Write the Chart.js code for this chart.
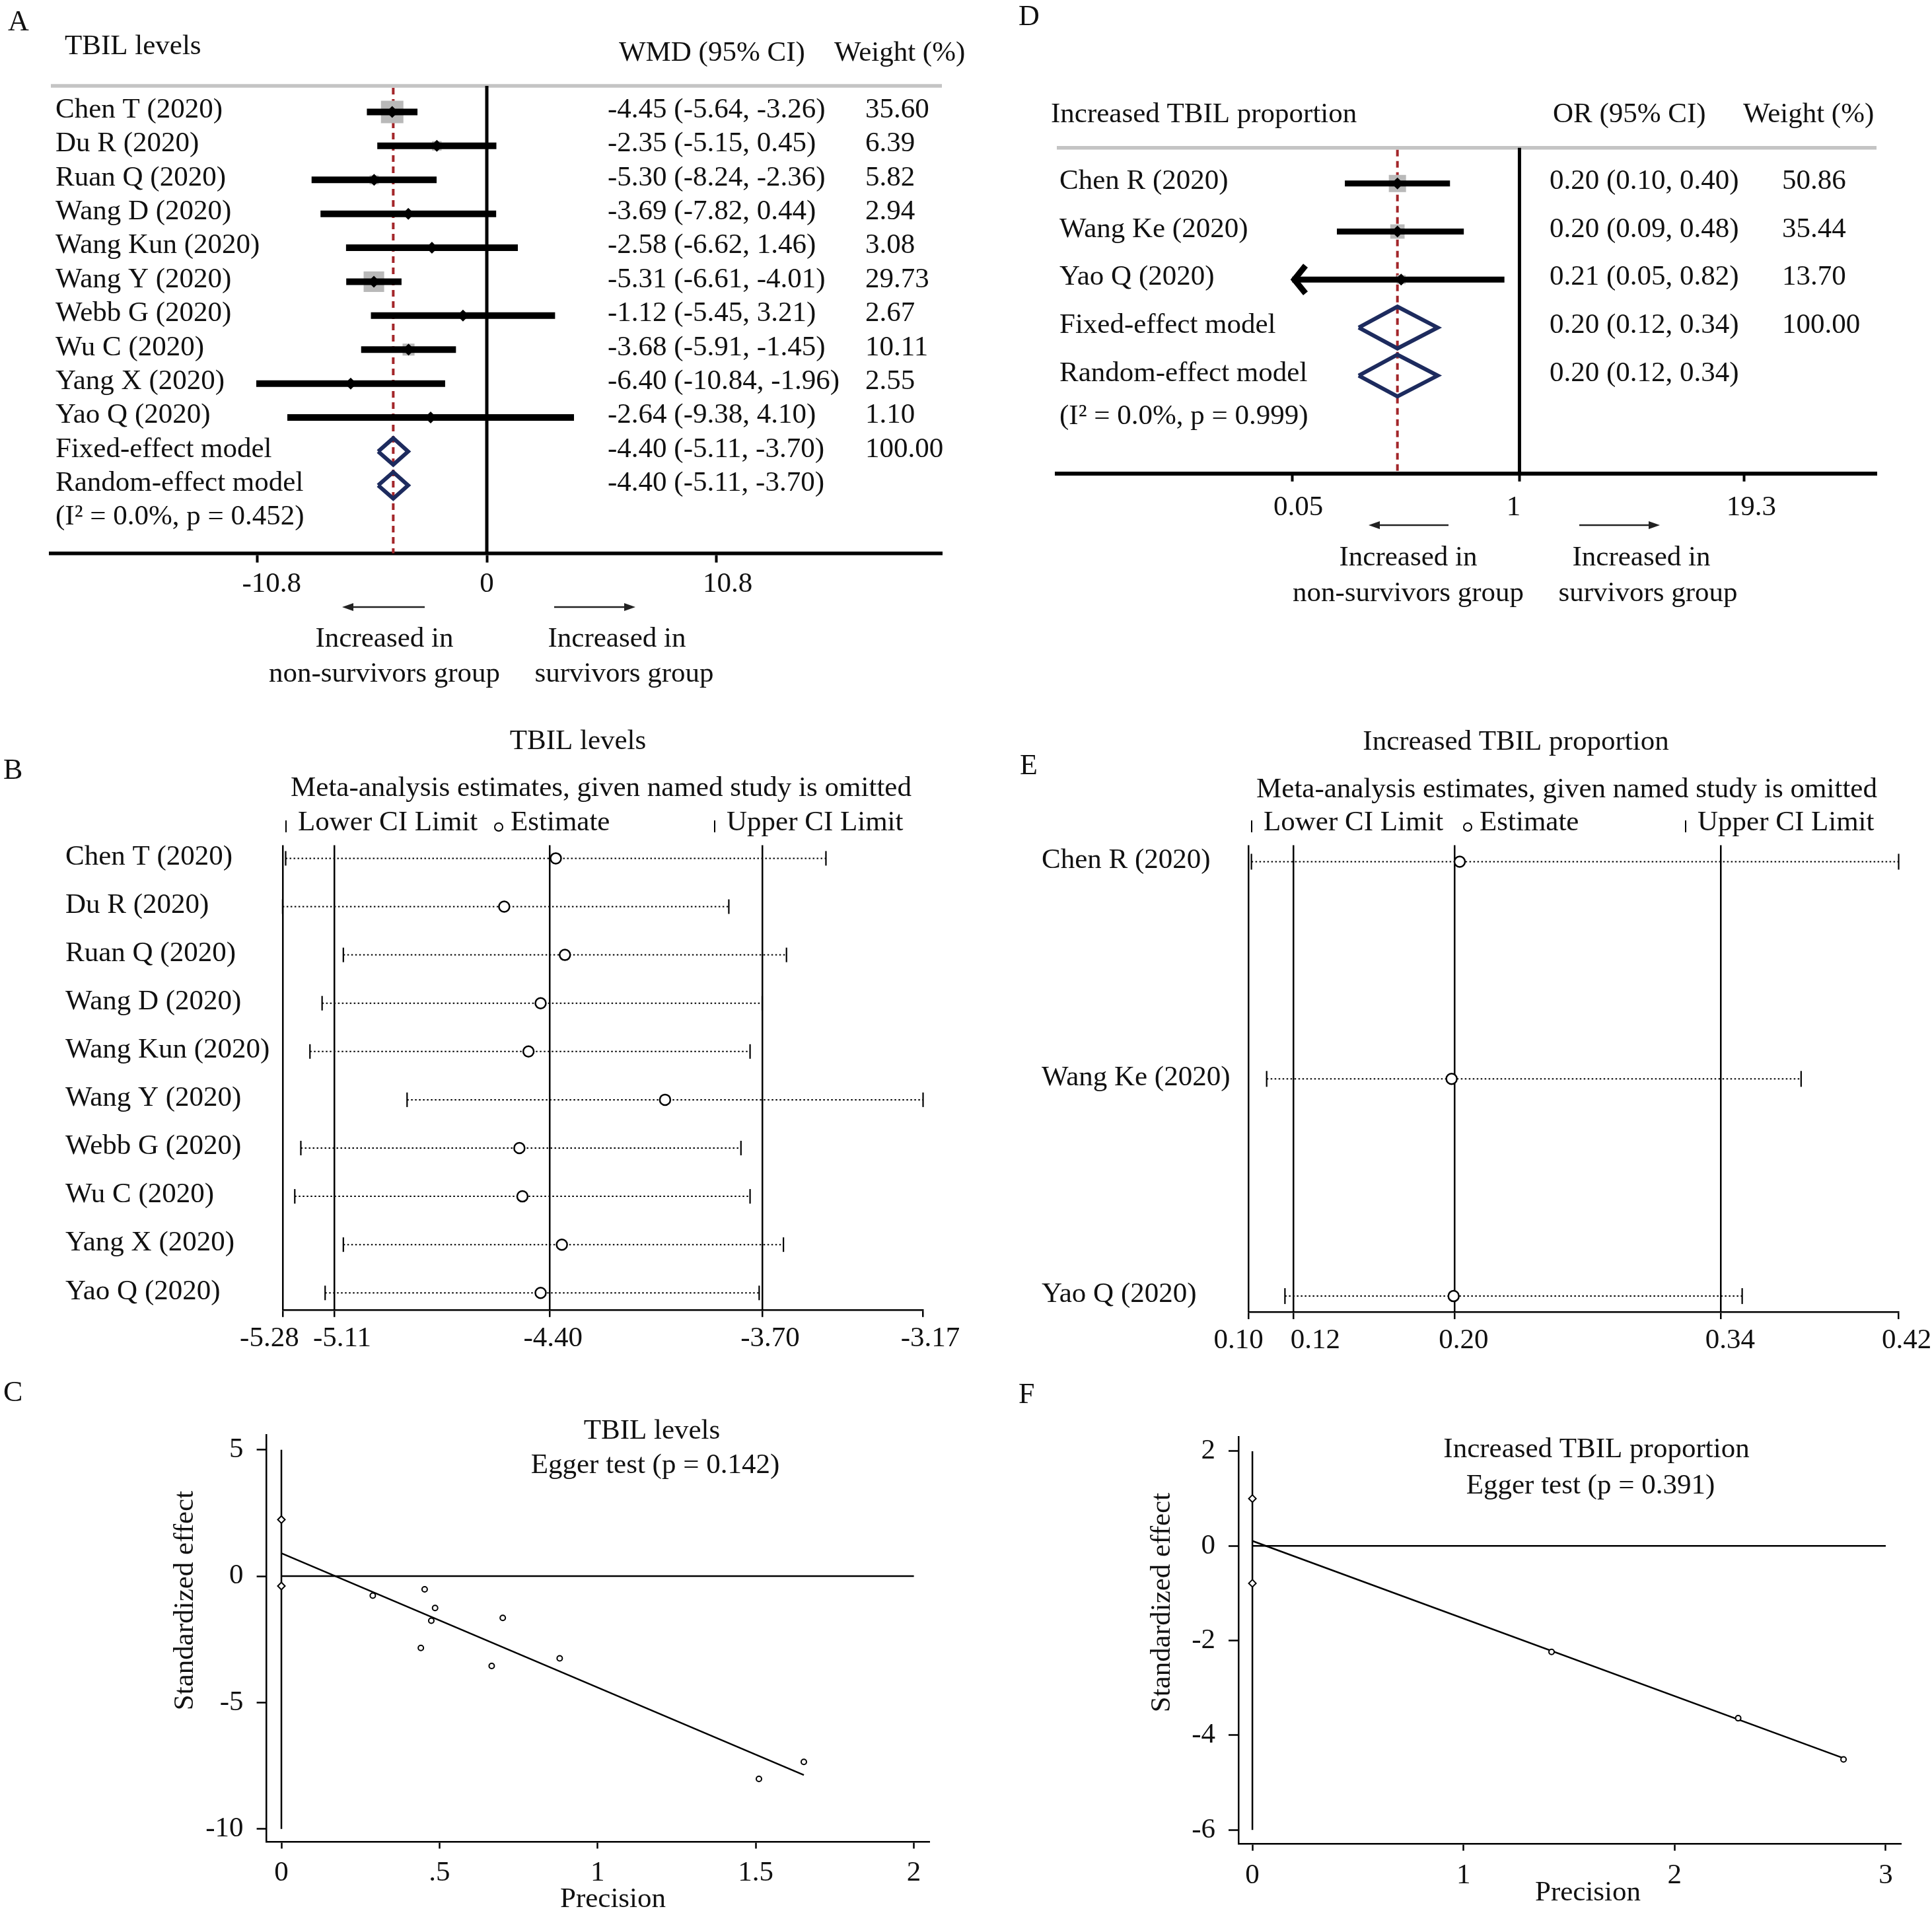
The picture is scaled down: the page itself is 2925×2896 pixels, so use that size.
<!DOCTYPE html>
<html>
<head>
<meta charset="utf-8">
<title>TBIL meta-analysis</title>
<script src="https://cdn.jsdelivr.net/npm/chart.js@4.4.1/dist/chart.umd.min.js"></script>
<style>
  body { margin: 0; background: #fff; }
  #page { position: relative; width: 2925px; height: 2896px; background: #fff; overflow: hidden; }
  canvas { position: absolute; }
</style>
</head>
<body>
<div id="page">
  <canvas id="panelA" width="1460" height="1080" style="left:0px;top:0px;width:1460px;height:1080px"></canvas>
  <canvas id="panelD" width="1385" height="940" style="left:1540px;top:0px;width:1385px;height:940px"></canvas>
  <canvas id="panelB" width="1470" height="980" style="left:0px;top:1080px;width:1470px;height:980px"></canvas>
  <canvas id="panelE" width="1385" height="980" style="left:1540px;top:1080px;width:1385px;height:980px"></canvas>
  <canvas id="panelC" width="1460" height="836" style="left:0px;top:2060px;width:1460px;height:836px"></canvas>
  <canvas id="panelF" width="1385" height="836" style="left:1540px;top:2060px;width:1385px;height:836px"></canvas>
</div>
<script>
// A: TBIL levels, weighted mean difference per study
const A_STUDIES = ['Chen T (2020)', 'Du R (2020)', 'Ruan Q (2020)', 'Wang D (2020)', 'Wang Kun (2020)',
                   'Wang Y (2020)', 'Webb G (2020)', 'Wu C (2020)', 'Yang X (2020)', 'Yao Q (2020)'];
const A_WMD    = [-4.45, -2.35, -5.30, -3.69, -2.58, -5.31, -1.12, -3.68, -6.40, -2.64];
const A_LOWER  = [-5.64, -5.15, -8.24, -7.82, -6.62, -6.61, -5.45, -5.91, -10.84, -9.38];
const A_UPPER  = [-3.26, 0.45, -2.36, 0.44, 1.46, -4.01, 3.21, -1.45, -1.96, 4.10];
const A_WEIGHT = [35.60, 6.39, 5.82, 2.94, 3.08, 29.73, 2.67, 10.11, 2.55, 1.10];
const A_MODELS = ['Fixed-effect model', 'Random-effect model'];
const A_MODEL_WMD    = [-4.40, -4.40];
const A_MODEL_LOWER  = [-5.11, -5.11];
const A_MODEL_UPPER  = [-3.70, -3.70];
const A_MODEL_WEIGHT = [100.00, null];
const A_HETEROGENEITY = '(I² = 0.0%, p = 0.452)';
const A_TICKS = [-10.8, 0, 10.8];
const A_TICK_LABELS = ['-10.8', '0', '10.8'];

// D: increased TBIL proportion, odds ratio per study
const D_STUDIES = ['Chen R (2020)', 'Wang Ke (2020)', 'Yao Q (2020)'];
const D_OR     = [0.20, 0.20, 0.21];
const D_LOWER  = [0.10, 0.09, 0.05];
const D_UPPER  = [0.40, 0.48, 0.82];
const D_WEIGHT = [50.86, 35.44, 13.70];
const D_MODELS = ['Fixed-effect model', 'Random-effect model'];
const D_MODEL_OR     = [0.20, 0.20];
const D_MODEL_LOWER  = [0.12, 0.12];
const D_MODEL_UPPER  = [0.34, 0.34];
const D_MODEL_WEIGHT = [100.00, null];
const D_HETEROGENEITY = '(I² = 0.0%, p = 0.999)';
const D_TICKS = [0.05, 1, 19.3];
const D_TICK_LABELS = ['0.05', '1', '19.3'];

// B: leave-one-out estimates, TBIL levels
const B_OMITTED = ['Chen T (2020)', 'Du R (2020)', 'Ruan Q (2020)', 'Wang D (2020)', 'Wang Kun (2020)',
                   'Wang Y (2020)', 'Webb G (2020)', 'Wu C (2020)', 'Yang X (2020)', 'Yao Q (2020)'];
const B_ESTIMATE = [-4.38, -4.55, -4.35, -4.43, -4.47, -4.02, -4.50, -4.49, -4.36, -4.43];
const B_LOWER    = [-5.27, -5.28, -5.08, -5.15, -5.19, -4.87, -5.22, -5.24, -5.08, -5.14];
const B_UPPER    = [-3.49, -3.81, -3.62, -3.70, -3.74, -3.17, -3.77, -3.74, -3.63, -3.71];
const B_TICKS = [-5.28, -5.11, -4.40, -3.70, -3.17];
const B_TICK_LABELS = ['-5.28', '-5.11', '-4.40', '-3.70', '-3.17'];

// E: leave-one-out estimates, increased TBIL proportion
const E_OMITTED = ['Chen R (2020)', 'Wang Ke (2020)', 'Yao Q (2020)'];
const E_ESTIMATE = [0.204, 0.200, 0.201];
const E_LOWER    = [0.1015, 0.109, 0.118];
const E_UPPER    = [0.42, 0.372, 0.343];
const E_TICKS = [0.10, 0.1222, 0.2014, 0.3325, 0.42];
const E_TICK_LABELS = ['0.10', '0.12', '0.20', '0.34', '0.42'];

// C: Egger plot, TBIL levels
const C_PRECISION  = [0.289, 0.441, 0.453, 0.474, 0.486, 0.665, 0.700, 0.880, 1.510, 1.652];
const C_STD_EFFECT = [-0.77, -2.84, -0.52, -1.76, -1.26, -3.55, -1.65, -3.25, -8.02, -7.35];
const C_INTERCEPT_CI = [2.24, -0.39];
const C_FIT_PRECISION = [0, 1.652];
const C_FIT_EFFECT    = [0.91, -7.87];
const C_XTICKS = [0, 0.5, 1, 1.5, 2];
const C_XTICK_LABELS = ['0', '.5', '1', '1.5', '2'];
const C_YTICKS = [-10, -5, 0, 5];

// F: Egger plot, increased TBIL proportion
const F_PRECISION  = [1.417, 2.301, 2.800];
const F_STD_EFFECT = [-2.24, -3.64, -4.51];
const F_INTERCEPT_CI = [1.00, -0.79];
const F_FIT_PRECISION = [0, 2.800];
const F_FIT_EFFECT    = [0.105, -4.485];
const F_XTICKS = [0, 1, 2, 3];
const F_XTICK_LABELS = ['0', '1', '2', '3'];
const F_YTICKS = [-6, -4, -2, 0, 2];

const INK = '#111';
const SERIF = "43px 'Liberation Serif'";
const LETTER = "44px 'Liberation Serif'";
Chart.defaults.font.family = "'Liberation Serif'";
Chart.defaults.color = INK;

function fmt(v) { return v.toFixed(2); }

function drawText(ctx, s, x, y, align, font) {
  ctx.font = font || SERIF;
  ctx.textAlign = align || 'left';
  ctx.textBaseline = 'middle';
  ctx.fillStyle = INK;
  ctx.fillText(s, x, y);
}

function drawArrow(ctx, x1, x2, y) {
  const dir = Math.sign(x2 - x1);
  ctx.strokeStyle = '#222';
  ctx.fillStyle = '#222';
  ctx.lineWidth = 2.5;
  ctx.beginPath(); ctx.moveTo(x1, y); ctx.lineTo(x2 - dir * 10, y); ctx.stroke();
  ctx.beginPath(); ctx.moveTo(x2, y); ctx.lineTo(x2 - dir * 17, y - 6); ctx.lineTo(x2 - dir * 17, y + 6); ctx.closePath(); ctx.fill();
}

// tick labels sit a little off their tick marks in the original, so these axes place them by hand
function drawTickLabels(chart, ticks, labels, shift, gap) {
  const { ctx, chartArea: a, scales: { x } } = chart;
  ticks.forEach((v, i) => drawText(ctx, labels[i], x.getPixelForValue(v) + shift[i], a.bottom + gap, 'center'));
}

function xAxis(o) {
  return {
    type: o.type || 'linear', min: o.min, max: o.max,
    afterBuildTicks: s => { s.ticks = o.ticks.map(v => ({ value: v })); },
    afterFit: s => { s.height = o.height; },
    ticks: { display: !o.manualLabels, font: { size: 43 }, color: INK, padding: o.pad || 0, maxRotation: 0,
             autoSkip: false, callback: (v, i) => o.labels[i] },
    grid: { drawOnChartArea: !!o.gridColor, color: o.gridColor || 'rgba(0,0,0,0)', lineWidth: o.gridW || 1,
            drawTicks: true, tickLength: o.tickLen, tickWidth: o.tickW, tickColor: '#000' },
    border: { display: true, color: '#000', width: o.borderW }
  };
}

function baseOptions(padding, scales) {
  return {
    responsive: false, animation: false, devicePixelRatio: 1, events: [],
    layout: { padding },
    plugins: { legend: { display: false }, tooltip: { enabled: false }, title: { display: false } },
    scales
  };
}

// forest plot (panels A and D)
function forestPlot(id, d, lay) {
  const n = d.studies.length;
  const ci = [], marks = [];
  d.est.forEach((v, i) => {
    ci.push({ x: d.lo[i], y: i }, { x: d.hi[i], y: i }, { x: null, y: null });
    marks.push({ x: v, y: i });
  });
  const datasets = [
    { data: marks, pointStyle: 'rect', pointRadius: d.weight.map(w => lay.squareK * Math.sqrt(w)),
      pointBackgroundColor: '#b9b9b9', pointBorderWidth: 0, order: 6, clip: false },
    { data: ci, showLine: true, borderColor: '#000', borderWidth: lay.ciWidth, borderCapStyle: 'butt',
      pointRadius: 0, order: 4, clip: false },
    { data: marks, pointStyle: 'rectRot', pointRadius: 9, pointBackgroundColor: '#000', pointBorderWidth: 0,
      order: 3, clip: false }
  ];
  d.modelEst.forEach((v, k) => {
    const r = n + k;
    datasets.push({
      data: [{ x: d.modelLo[k], y: r }, { x: v, y: r - lay.diamondH }, { x: d.modelHi[k], y: r },
             { x: v, y: r + lay.diamondH }, { x: d.modelLo[k], y: r }],
      showLine: true, borderColor: '#1d2b5e', borderWidth: 6, borderJoinStyle: 'miter', pointRadius: 0,
      order: 2, clip: false
    });
  });

  const decor = {
    id: 'forestDecor',
    beforeDatasetsDraw(chart) {
      const { ctx, chartArea: a, scales: { x } } = chart;
      ctx.save();
      ctx.strokeStyle = '#c4c4c4'; ctx.lineWidth = 5.5;
      ctx.beginPath(); ctx.moveTo(a.left, a.top); ctx.lineTo(a.right, a.top); ctx.stroke();
      const xn = x.getPixelForValue(d.nullValue);
      ctx.strokeStyle = '#000'; ctx.lineWidth = 5;
      ctx.beginPath(); ctx.moveTo(xn, a.top); ctx.lineTo(xn, a.bottom); ctx.stroke();
      const xp = x.getPixelForValue(d.modelEst[0]);
      ctx.strokeStyle = '#a3262a'; ctx.lineWidth = 4; ctx.setLineDash([10, 7]);
      ctx.beginPath(); ctx.moveTo(xp, a.top + 3); ctx.lineTo(xp, a.bottom); ctx.stroke();
      ctx.restore();
    },
    afterDatasetsDraw(chart) {
      // arrow heads for intervals cut at the axis range
      const { ctx, scales: { x, y } } = chart;
      ctx.save();
      ctx.strokeStyle = '#000'; ctx.lineWidth = lay.ciWidth; ctx.lineJoin = 'miter';
      d.lo.forEach((v, i) => {
        if (v > lay.clipLow) return;
        const px = x.getPixelForValue(v), py = y.getPixelForValue(i);
        ctx.beginPath(); ctx.moveTo(px + 20, py - 21); ctx.lineTo(px + 3, py); ctx.lineTo(px + 20, py + 21); ctx.stroke();
      });
      ctx.restore();
    },
    afterDraw(chart) {
      const { ctx, scales: { y } } = chart;
      ctx.save();
      drawText(ctx, lay.letter[0], lay.letter[1], lay.letter[2], 'left', LETTER);
      lay.headers.forEach(h => drawText(ctx, h[0], h[1], h[2]));
      d.studies.forEach((s, i) => {
        const py = y.getPixelForValue(i) + lay.textDy;
        drawText(ctx, s, lay.nameX, py);
        drawText(ctx, fmt(d.est[i]) + ' (' + fmt(d.lo[i]) + ', ' + fmt(d.hi[i]) + ')', lay.ciX, py);
        drawText(ctx, fmt(d.weight[i]), lay.wX, py);
      });
      d.models.forEach((s, k) => {
        const py = y.getPixelForValue(n + k) + lay.textDy;
        drawText(ctx, s, lay.nameX, py);
        drawText(ctx, fmt(d.modelEst[k]) + ' (' + fmt(d.modelLo[k]) + ', ' + fmt(d.modelHi[k]) + ')', lay.ciX, py);
        if (d.modelW[k] !== null) drawText(ctx, fmt(d.modelW[k]), lay.wX, py);
      });
      drawText(ctx, d.het, lay.nameX, lay.hetY);
      drawTickLabels(chart, d.ticks, d.tickLabels, lay.labelShift, lay.labelGap);
      drawArrow(ctx, lay.leftArrow[0], lay.leftArrow[1], lay.arrowY);
      drawArrow(ctx, lay.rightArrow[0], lay.rightArrow[1], lay.arrowY);
      lay.captions.forEach(c => drawText(ctx, c[0], c[1], c[2], 'center'));
      ctx.restore();
    }
  };

  return new Chart(document.getElementById(id), {
    type: 'scatter',
    data: { datasets },
    options: baseOptions(lay.padding, {
      x: xAxis({ type: lay.type, min: lay.xMin, max: lay.xMax, ticks: d.ticks, labels: d.tickLabels,
                 manualLabels: true, height: 100, tickLen: lay.tickLen, tickW: 4, borderW: lay.axisW }),
      y: { type: 'linear', reverse: true, min: lay.yMin, max: lay.yMax, display: false }
    }),
    plugins: [decor]
  });
}

// leave-one-out plot (panels B and E)
function sensitivityPlot(id, d, lay) {
  const ci = [], caps = [], est = [];
  d.names.forEach((s, i) => {
    ci.push({ x: d.lo[i], y: i }, { x: d.hi[i], y: i }, { x: null, y: null });
    caps.push({ x: d.lo[i], y: i }, { x: d.hi[i], y: i });
    est.push({ x: d.est[i], y: i });
  });
  const last = d.ticks.length - 1;
  const decor = {
    id: 'sensDecor',
    afterDraw(chart) {
      const { ctx, scales: { y } } = chart;
      ctx.save();
      drawText(ctx, lay.letter[0], lay.letter[1], lay.letter[2], 'left', LETTER);
      lay.titles.forEach(t => drawText(ctx, t[0], t[1], t[2], 'center'));
      const ly = lay.legendY;
      ctx.strokeStyle = '#000'; ctx.lineWidth = 2;
      [lay.legend[0], lay.legend[2]].forEach(bx => {
        ctx.beginPath(); ctx.moveTo(bx, ly - 4); ctx.lineTo(bx, ly + 14); ctx.stroke();
      });
      ctx.beginPath(); ctx.arc(lay.legend[1], ly + 6, 6, 0, Math.PI * 2); ctx.stroke();
      drawText(ctx, 'Lower CI Limit', lay.legend[0] + 18, ly);
      drawText(ctx, 'Estimate', lay.legend[1] + 18, ly);
      drawText(ctx, 'Upper CI Limit', lay.legend[2] + 18, ly);
      d.names.forEach((s, i) => drawText(ctx, s, lay.nameX, y.getPixelForValue(i) - 2));
      drawTickLabels(chart, d.ticks, d.tickLabels, lay.labelShift, lay.labelGap);
      ctx.restore();
    }
  };
  return new Chart(document.getElementById(id), {
    type: 'scatter',
    data: { datasets: [
      { data: est, pointStyle: 'circle', pointRadius: 8, pointBorderWidth: 2.5, pointBorderColor: '#000',
        pointBackgroundColor: '#fff', order: 1, clip: false },
      { data: caps, pointStyle: 'line', pointRotation: 90, pointRadius: lay.capR, pointBorderWidth: 2.2,
        pointBorderColor: '#000', order: 2, clip: false },
      { data: ci, showLine: true, borderColor: '#000', borderWidth: 2, borderDash: [2.5, 3.5], pointRadius: 0,
        order: 3, clip: false }
    ] },
    options: baseOptions(lay.padding, {
      x: xAxis({ min: d.ticks[0], max: d.ticks[last], ticks: d.ticks, labels: d.tickLabels, manualLabels: true,
                 height: 60, tickLen: 11, tickW: 2.5, borderW: 2.5, gridW: 2.5,
                 gridColor: c => (c.index < last ? '#000' : 'rgba(0,0,0,0)') }),
      y: { type: 'linear', reverse: true, min: lay.yMin, max: lay.yMax, display: false }
    }),
    plugins: [decor]
  });
}

// Egger regression plot (panels C and F)
function eggerPlot(id, d, lay) {
  const xt = d.xticks, yt = d.yticks;
  const decor = {
    id: 'eggerDecor',
    afterDraw(chart) {
      const { ctx } = chart;
      ctx.save();
      drawText(ctx, lay.letter[0], lay.letter[1], lay.letter[2], 'left', LETTER);
      lay.titles.forEach(t => drawText(ctx, t[0], t[1], t[2], 'center'));
      drawText(ctx, 'Precision', lay.xTitle[0], lay.xTitle[1], 'center');
      ctx.translate(lay.yTitle[0], lay.yTitle[1]);
      ctx.rotate(-Math.PI / 2);
      drawText(ctx, 'Standardized effect', 0, 0, 'center');
      ctx.restore();
    }
  };
  return new Chart(document.getElementById(id), {
    type: 'scatter',
    data: { datasets: [
      { data: d.x.map((v, i) => ({ x: v, y: d.y[i] })), pointStyle: 'circle', pointRadius: 4, pointBorderWidth: 2,
        pointBorderColor: '#000', pointBackgroundColor: '#fff', order: 1, clip: false },
      { data: d.interceptCI.map(v => ({ x: 0, y: v })), pointStyle: 'rectRot', pointRadius: 5.5, pointBorderWidth: 2,
        pointBorderColor: '#000', pointBackgroundColor: '#fff', order: 1, clip: false },
      { data: d.fitX.map((v, i) => ({ x: v, y: d.fitY[i] })), showLine: true, borderColor: '#000', borderWidth: 2.5,
        pointRadius: 0, order: 2 },
      { data: [{ x: xt[0], y: 0 }, { x: xt[xt.length - 1], y: 0 }], showLine: true, borderColor: '#000',
        borderWidth: 2.5, pointRadius: 0, order: 3 },
      { data: [{ x: 0, y: yt[0] }, { x: 0, y: yt[yt.length - 1] }], showLine: true, borderColor: '#000',
        borderWidth: 2.5, pointRadius: 0, order: 3 }
    ] },
    options: baseOptions(lay.padding, {
      x: xAxis({ min: lay.xMin, max: lay.xMax, ticks: xt, labels: d.xlabels, height: 80, pad: lay.xPad,
                 tickLen: 10, tickW: 2.5, borderW: 2.5 }),
      y: {
        type: 'linear', min: lay.yMin, max: lay.yMax,
        afterBuildTicks: s => { s.ticks = yt.map(v => ({ value: v })); },
        afterFit: s => { s.width = 120; },
        ticks: { font: { size: 43 }, color: INK, padding: 20, callback: v => String(v) },
        grid: { drawOnChartArea: false, color: 'rgba(0,0,0,0)', drawTicks: true, tickLength: 15, tickWidth: 2.5,
                tickColor: '#000' },
        border: { display: true, color: '#000', width: 2.5 }
      }
    }),
    plugins: [decor]
  });
}

forestPlot('panelA', {
  studies: A_STUDIES, est: A_WMD, lo: A_LOWER, hi: A_UPPER, weight: A_WEIGHT,
  models: A_MODELS, modelEst: A_MODEL_WMD, modelLo: A_MODEL_LOWER, modelHi: A_MODEL_UPPER, modelW: A_MODEL_WEIGHT,
  het: A_HETEROGENEITY, ticks: A_TICKS, tickLabels: A_TICK_LABELS, nullValue: 0
}, {
  type: 'linear', xMin: -20.5, xMax: 21.4, yMin: -0.768, yMax: 13.0,
  padding: { left: 77, right: 34, top: 130, bottom: 142.4 },
  tickLen: 14, axisW: 5.5, ciWidth: 10, squareK: 4.03, diamondH: 0.39, clipLow: -Infinity,
  labelShift: [22, 0, 17], labelGap: 47,
  letter: ['A', 12, 34], textDy: -3,
  headers: [['TBIL levels', 98, 71], ['WMD (95% CI)', 937, 81], ['Weight (%)', 1263, 81]],
  nameX: 84, ciX: 920, wX: 1310, hetY: 783,
  arrowY: 919, leftArrow: [643, 518], rightArrow: [839, 962],
  captions: [['Increased in', 582, 968], ['non-survivors group', 582, 1021],
             ['Increased in', 934, 968], ['survivors group', 945, 1021]]
});

forestPlot('panelD', {
  studies: D_STUDIES, est: D_OR, lo: D_LOWER, hi: D_UPPER, weight: D_WEIGHT,
  models: D_MODELS, modelEst: D_MODEL_OR, modelLo: D_MODEL_LOWER, modelHi: D_MODEL_UPPER, modelW: D_MODEL_WEIGHT,
  het: D_HETEROGENEITY, ticks: D_TICKS, tickLabels: D_TICK_LABELS, nullValue: 1
}, {
  type: 'logarithmic', xMin: 0.00224, xMax: 110.9, yMin: -0.744, yMax: 6.04,
  padding: { left: 60, right: 84, top: 223.7, bottom: 123.1 },
  tickLen: 12, axisW: 6, ciWidth: 9, squareK: 2.58, diamondH: 0.435, clipLow: D_TICKS[0],
  labelShift: [9, -9, 11], labelGap: 52,
  letter: ['D', 2, 26], textDy: -3,
  headers: [['Increased TBIL proportion', 51, 174], ['OR (95% CI)', 811, 174], ['Weight (%)', 1099, 174]],
  nameX: 64, ciX: 806, wX: 1158, hetY: 631,
  arrowY: 795, leftArrow: [653, 532], rightArrow: [851, 973],
  captions: [['Increased in', 592, 845], ['non-survivors group', 592, 899],
             ['Increased in', 945, 845], ['survivors group', 955, 899]]
});

sensitivityPlot('panelB', {
  names: B_OMITTED, est: B_ESTIMATE, lo: B_LOWER, hi: B_UPPER, ticks: B_TICKS, tickLabels: B_TICK_LABELS
}, {
  yMin: -0.2736, yMax: 9.349, padding: { left: 427.9, right: 72.5, top: 199.4, bottom: 17.2 },
  capR: 11, labelShift: [-20, 12, 5, 12, 11], labelGap: 44, letter: ['B', 5, 87],
  titles: [['TBIL levels', 875, 43], ['Meta-analysis estimates, given named study is omitted', 910, 114]],
  legendY: 166, legend: [433, 755, 1082], nameX: 99
});

sensitivityPlot('panelE', {
  names: E_OMITTED, est: E_ESTIMATE, lo: E_LOWER, hi: E_UPPER, ticks: E_TICKS, tickLabels: E_TICK_LABELS
}, {
  yMin: -0.0763, yMax: 2.0727, padding: { left: 350, right: 50.5, top: 199.4, bottom: 14 },
  capR: 12, labelShift: [-15, 33, 14, 14, 12], labelGap: 44, letter: ['E', 4, 80],
  titles: [['Increased TBIL proportion', 755, 44], ['Meta-analysis estimates, given named study is omitted', 832, 116]],
  legendY: 166, legend: [355, 682, 1012], nameX: 37
});

eggerPlot('panelC', {
  x: C_PRECISION, y: C_STD_EFFECT, interceptCI: C_INTERCEPT_CI, fitX: C_FIT_PRECISION, fitY: C_FIT_EFFECT,
  xticks: C_XTICKS, xlabels: C_XTICK_LABELS, yticks: C_YTICKS
}, {
  xMin: -0.0468, xMax: 2.0505, yMin: -10.518, yMax: 5.589,
  padding: { left: 283.6, right: 52.2, top: 112.3, bottom: 27.5 }, xPad: 11,
  letter: ['C', 5, 49],
  titles: [['TBIL levels', 987, 107], ['Egger test (p = 0.142)', 992, 159]],
  xTitle: [928, 816], yTitle: [281, 363]
});

eggerPlot('panelF', {
  x: F_PRECISION, y: F_STD_EFFECT, interceptCI: F_INTERCEPT_CI, fitX: F_FIT_PRECISION, fitY: F_FIT_EFFECT,
  xticks: F_XTICKS, xlabels: F_XTICK_LABELS, yticks: F_YTICKS
}, {
  xMin: -0.066, xMax: 3.072, yMin: -6.30, yMax: 2.307,
  padding: { left: 215, right: 47, top: 115, bottom: 24.3 }, xPad: 12,
  letter: ['F', 2, 52],
  titles: [['Increased TBIL proportion', 877, 135], ['Egger test (p = 0.391)', 868, 190]],
  xTitle: [864, 806], yTitle: [220, 366]
});
</script>
</body>
</html>
